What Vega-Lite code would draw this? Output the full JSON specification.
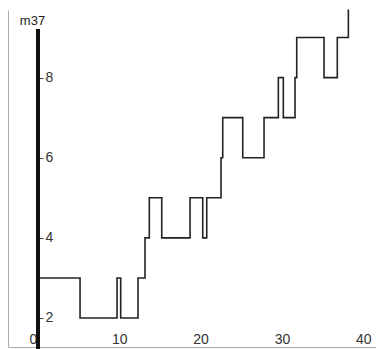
{
  "$schema": "https://vega.github.io/schema/vega-lite/v6.json",
  "autosize": {"type": "none"},
  "padding": {"left": 8, "top": 10, "right": 0, "bottom": 2},
  "width": 368,
  "height": 337,
  "background": "white",
  "config": {
    "view": {"stroke": null},
    "font": "Liberation Sans",
    "axis": {"labelFont": "Liberation Sans", "titleFont": "Liberation Sans"}
  },
  "data": {
    "values": [
      {"t": 0, "m37": 3},
      {"t": 5.17, "m37": 2},
      {"t": 9.72, "m37": 3},
      {"t": 10.17, "m37": 2},
      {"t": 12.3, "m37": 3},
      {"t": 13.16, "m37": 4},
      {"t": 13.69, "m37": 5},
      {"t": 15.22, "m37": 4},
      {"t": 18.7, "m37": 5},
      {"t": 20.26, "m37": 4},
      {"t": 20.75, "m37": 5},
      {"t": 22.51, "m37": 6},
      {"t": 22.72, "m37": 7},
      {"t": 25.18, "m37": 6},
      {"t": 27.8, "m37": 7},
      {"t": 29.56, "m37": 8},
      {"t": 30.17, "m37": 7},
      {"t": 31.61, "m37": 8},
      {"t": 31.82, "m37": 9},
      {"t": 35.18, "m37": 8},
      {"t": 36.81, "m37": 9},
      {"t": 38.17, "m37": 9.7}
    ]
  },
  "layer": [
    {
      "mark": {"type": "line", "interpolate": "step-after", "color": "#222222", "strokeWidth": 1.6, "clip": false},
      "encoding": {
        "x": {
          "field": "t", "type": "quantitative",
          "scale": {"domain": [-3.69, 41.57], "nice": false, "zero": false},
          "axis": {
            "orient": "bottom",
            "title": null,
            "values": [-3.69, 0, 10, 20, 30, 40],
            "labelExpr": "datum.value < 0 ? '' : datum.label",
            "labelFlush": false,
            "labelOverlap": false,
            "labelFontSize": 14,
            "labelColor": "#333333",
            "labelBaseline": "alphabetic",
            "labelPadding": -4,
            "labelOffset": {"condition": {"test": "datum.value == 0", "value": -5}, "value": 0},
            "ticks": false,
            "domain": true,
            "domainColor": "#aaaaaa",
            "domainWidth": 1,
            "grid": true,
            "gridColor": "#aaaaaa",
            "gridWidth": 1,
            "gridOpacity": {"condition": {"test": "datum.value < 0", "value": 1}, "value": 0}
          }
        },
        "y": {
          "field": "m37", "type": "quantitative",
          "scale": {"domain": [1.276, 9.687], "nice": false, "zero": false},
          "axis": {
            "orient": "left",
            "offset": -30,
            "values": [2, 4, 6, 8],
            "domain": false,
            "grid": false,
            "ticks": true,
            "tickSize": -5,
            "tickColor": "#444444",
            "tickWidth": 1,
            "labelAlign": "left",
            "labelBaseline": "middle",
            "labelPadding": -2,
            "labelFlush": false,
            "labelOverlap": false,
            "labelFontSize": 14,
            "labelColor": "#333333",
            "title": "m37",
            "titleAngle": 0,
            "titleAlign": "center",
            "titleBaseline": "alphabetic",
            "titleX": -6,
            "titleY": 14.5,
            "titleFontSize": 13,
            "titleFontWeight": "normal",
            "titleColor": "#222222"
          }
        }
      }
    },
    {
      "mark": {"type": "rule", "color": "#111111", "strokeWidth": 3, "clip": false},
      "encoding": {
        "x": {"datum": 0, "type": "quantitative"},
        "y": {"datum": 9.213, "type": "quantitative"},
        "y2": {"datum": 1.2}
      }
    }
  ]
}
